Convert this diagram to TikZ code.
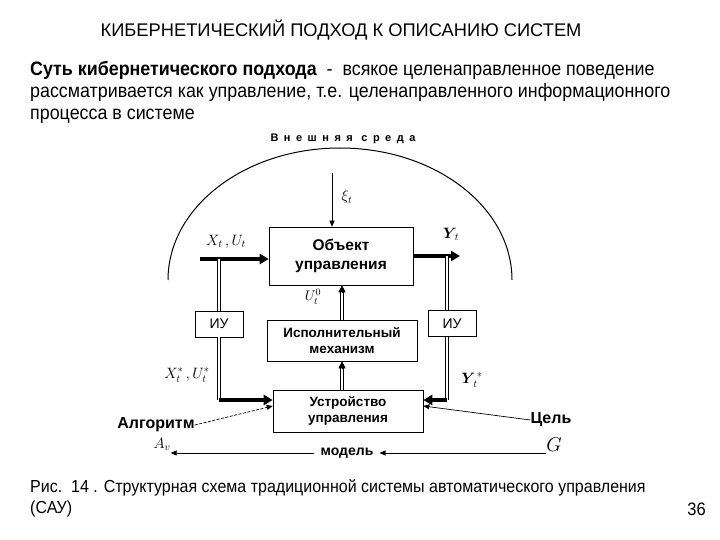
\documentclass[tikz,border=0pt]{standalone}
\usepackage{fix-cm}
\usepackage{amsmath}
\usepackage{fontspec}
\setmainfont{Liberation Sans}
\newfontfamily\narrowfont{Liberation Sans}[FakeStretch=0.92]
\usetikzlibrary{arrows.meta,calc}

\begin{document}
\begin{tikzpicture}[
  x=1pt, y=-1pt,
  >=Latex,
  block/.style={
    draw,
    line width=0.6pt,
    fill=white,
    align=center,
    inner sep=0pt,
    font=\fontsize{13.5}{16}\selectfont\bfseries
  },
  iubox/.style={
    draw,
    line width=0.6pt,
    fill=white,
    minimum width=48pt,
    minimum height=26pt,
    inner sep=0pt,
    font=\fontsize{14}{15}\selectfont
  },
  lbl/.style={inner sep=0pt, font=\fontsize{15}{15}\selectfont},
  boldlbl/.style={inner sep=0pt, font=\fontsize{16}{16}\selectfont\bfseries},
  textline/.style={anchor=base west, inner sep=0pt, font=\narrowfont\fontsize{19.4}{22}\selectfont},
  thickarrow/.style={line width=3.5pt, -{Triangle[length=9pt,width=10pt]}},
  thinarrow/.style={line width=0.7pt, -{Triangle[length=6pt,width=5pt]}},
  dashedarrow/.style={thinarrow, dashed, dash pattern=on 3pt off 1.5pt},
  dbl/.style={double, double distance=2.2pt, line width=0.7pt},
  dbltip/.style={line width=0.7pt, -{Triangle[length=7pt,width=7pt]}}
]
  \path[use as bounding box] (0,0) rectangle (720,540);

  \node[anchor=base, inner sep=0pt, font=\fontsize{18.3}{18}\selectfont] (title) at (341,37)
    {КИБЕРНЕТИЧЕСКИЙ ПОДХОД К ОПИСАНИЮ СИСТЕМ};

  \node[textline] (par1) at (30,76)
    {\textbf{Суть кибернетического подхода}\ \ -\ \ всякое целенаправленное поведение};
  \node[textline] (par2) at (30,98)
    {рассматривается как управление, т.е. целенаправленного информационного};
  \node[textline] (par3) at (30,120)
    {процесса в системе};

  \node[anchor=base, inner sep=0pt, font=\fontsize{11}{11}\selectfont\bfseries\addfontfeatures{LetterSpace=50}] (env) at (343,142)
    {Внешняя среда};

  \draw[line width=1pt] (168,280) arc[start angle=180, end angle=0, x radius=172pt, y radius=132pt];

  \node[block, minimum width=144pt, minimum height=58pt, font=\fontsize{15.5}{19}\selectfont\bfseries] (obj) at (341,256)
    {Объект\\управления};
  \node[block, minimum width=150pt, minimum height=41pt] (isp) at (342,340.5)
    {Исполнительный\\механизм};
  \node[block, minimum width=150pt, minimum height=42pt] (ustr) at (348,411)
    {Устройство\\управления};
  \node[iubox] (iul) at (219,324) {ИУ};
  \node[iubox] (iur) at (452,323.5) {ИУ};

  \coordinate (xin) at (200,259);
  \coordinate (yout) at (460,256);
  \coordinate (xcorner) at (219,400);
  \coordinate (ycorner) at (447,400);
  \coordinate (xitop) at (332,173);

  \node[lbl] (xilbl) at (347,197) {$\xi_t$};
  \node[lbl] (xulbl) at (226,242) {$X_t\,,U_t$};
  \node[lbl] (ylbl) at (451,234) {$\boldsymbol{Y}_{\!t}$};
  \node[lbl, font=\fontsize{14}{14}\selectfont] (u0lbl) at (313,297) {$U_t^0$};
  \node[lbl] (xustar) at (187,375) {$X_t^*\,,U_t^*$};
  \node[lbl] (ystar) at (472,380) {$\boldsymbol{Y}_{\!t}^{\,*}$};
  \node[boldlbl] (alg) at (156,425) {Алгоритм};
  \node[boldlbl] (goal) at (551,420) {Цель};
  \node[lbl] (av) at (162,444) {$A_v$};
  \node[lbl, font=\fontsize{20}{20}\selectfont] (gg) at (554,445) {$G$};
  \node[inner ysep=0pt, inner xsep=6pt, font=\fontsize{14}{14}\selectfont\bfseries] (model) at (347,453) {модель};

  \draw[thinarrow] (xitop) -- (xitop |- obj.north);

  \draw[thickarrow] (xin) -- (xin -| obj.west);
  \draw[dbl] (xin -| iul) -- (iul.north);
  \draw[dbl] (iul.south) -- (xcorner);
  \draw[thickarrow] (xcorner) -- (xcorner -| ustr.west);

  \draw[thickarrow] (yout -| obj.east) -- (yout);
  \draw[dbl] (yout -| ycorner) -- (ycorner |- iur.north);
  \draw[dbl] (ycorner |- iur.south) -- (ycorner);
  \draw[thickarrow] (ycorner) -- (ycorner -| ustr.east);

  \draw[dbl, shorten >=6pt] (ustr.north -| isp.south) -- (isp.south);
  \draw[dbltip] ($(isp.south)+(0,7)$) -- (isp.south);
  \draw[dbl, shorten >=6pt] (isp.north) -- (isp.north |- obj.south);
  \draw[dbltip] ($(isp.north |- obj.south)+(0,7)$) -- (isp.north |- obj.south);

  \draw[dashedarrow] (alg.east) -- ([yshift=5pt]ustr.west);
  \draw[thinarrow] (goal.west) -- ([yshift=5pt]ustr.east);

  \draw[thinarrow] (gg.west |- model) -- (model.east);
  \draw[thinarrow] (model.west) -- (model.west -| av.east);

  \node[textline, font=\narrowfont\fontsize{17.4}{17}\selectfont] (cap1) at (30,492)
    {Рис.\ \ 14 . Структурная схема традиционной системы автоматического управления};
  \node[textline, font=\narrowfont\fontsize{17.4}{17}\selectfont] (cap2) at (30,513) {(САУ)};
  \node[anchor=base east, inner sep=0pt, font=\narrowfont\fontsize{18}{18}\selectfont] (page) at (706,515) {36};
\end{tikzpicture}
\end{document}
